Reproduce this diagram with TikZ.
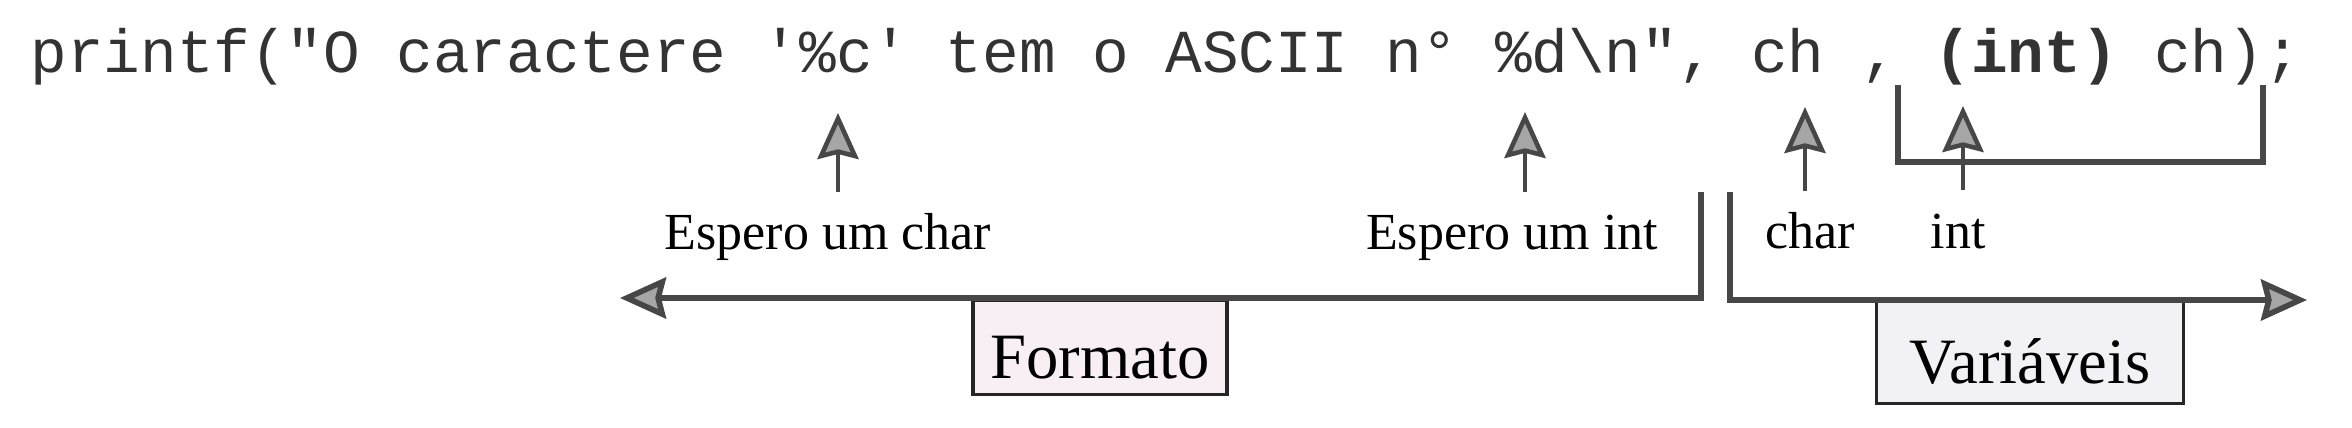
\documentclass[tikz,border=0pt]{standalone}
\usepackage{fontspec}
\setmainfont{Liberation Serif}
\setmonofont{Liberation Mono}
\usetikzlibrary{arrows.meta}
\definecolor{linegray}{HTML}{474747}
\definecolor{tipgray}{HTML}{A6A6A6}
\definecolor{formatofill}{HTML}{F8EFF5}
\definecolor{varfill}{HTML}{F2F2F6}

\begin{document}
\begin{tikzpicture}[
  ponta/.tip={Stealth[length=0.46cm, width=0.41cm, inset=0.05cm, fill=tipgray]},
  seta/.style={draw=linegray, line width=1.3pt, -ponta},
  linha/.style={draw=linegray, line width=1.6pt},
  rotulo/.style={font=\fontsize{14.8pt}{16pt}\selectfont, inner sep=0pt, anchor=base},
  caixa/.style={draw=black!85, line width=0.9pt, font=\fontsize{18.4pt}{20pt}\selectfont,
    text height=0.62cm, text depth=0pt, inner sep=0pt, anchor=north}]
  \useasboundingbox (0,0) rectangle (23.52,-4.28);

  % linha de codigo
  \node[anchor=base west, inner sep=0pt, text=black!80, font=\fontsize{17.36pt}{20pt}\selectfont\ttfamily] (codigo) at (0.30,-0.73)
    {printf("O caractere '\%c' tem o ASCII n° \%d\textbackslash n", ch , \textbf{(int)} ch);};

  % colchete sob (int) ch
  \coordinate (colchE) at (18.98,-0.85);
  \coordinate (colchD) at (22.63,-0.85);
  \draw[linha] (colchE) -- ++(0,-0.77) -| (colchD);

  % setas para cima
  \coordinate (baseC) at (8.38,-1.92);
  \coordinate (alvoC) at (8.38,-1.13);
  \coordinate (baseD) at (15.25,-1.92);
  \coordinate (alvoD) at (15.25,-1.12);
  \coordinate (baseCh) at (18.05,-1.91);
  \coordinate (alvoCh) at (18.05,-1.07);
  \coordinate (baseInt) at (19.63,-1.90);
  \coordinate (alvoInt) at (19.63,-1.06);
  \draw[seta] (baseC) -- (alvoC);
  \draw[seta] (baseD) -- (alvoD);
  \draw[seta] (baseCh) -- (alvoCh);
  \draw[seta] (baseInt) -- (alvoInt);

  % rotulos
  \node[rotulo] (espChar) at (8.28,-2.50) {Espero um char};
  \node[rotulo] (espInt) at (15.12,-2.50) {Espero um int};
  \node[rotulo] (tipoChar) at (18.10,-2.49) {char};
  \node[rotulo] (tipoInt) at (19.58,-2.49) {int};

  % caixas
  \node[caixa, fill=formatofill, minimum width=2.54cm, minimum height=0.94cm] (formato) at (11.00,-2.99) {Formato};
  \node[caixa, fill=varfill, minimum width=3.07cm, minimum height=1.02cm] (variaveis) at (20.30,-3.00) {Variáveis};

  % barras duplas e setas horizontais
  \coordinate (barraE) at (17.01,-1.92);
  \coordinate (cantoE) at (17.01,-2.98);
  \coordinate (pontaE) at (6.20,-2.98);
  \coordinate (barraD) at (17.30,-1.92);
  \coordinate (cantoD) at (17.30,-3.00);
  \coordinate (pontaD) at (23.07,-3.00);
  \draw[linha, -ponta] (barraE) -- (cantoE) -- (pontaE);
  \draw[linha, -ponta] (barraD) -- (cantoD) -- (pontaD);

\end{tikzpicture}
\end{document}
